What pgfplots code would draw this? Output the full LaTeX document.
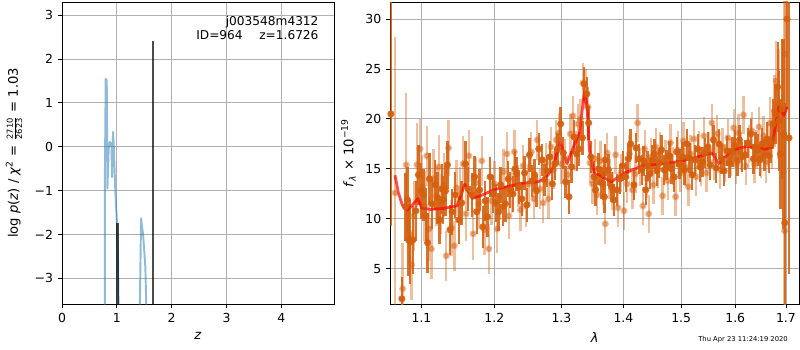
\documentclass[border=0pt]{standalone}
\usepackage{fontspec}
\setmainfont{DejaVu Sans}
\usepackage{pgfplots}
\pgfplotsset{compat=1.18}
\usepackage{pgfplotstable}
\definecolor{pzblue}{RGB}{31,119,180}
\definecolor{specor}{RGB}{212,96,14}
\definecolor{gridgray}{RGB}{176,176,176}

\pgfplotstableread{
x y e
1.0660 12.6 15.6
1.0755 3.0 4.6
1.0800 15.4 7.2
1.0840 8.4 3.0
1.0870 5.4 3.5
1.0900 10.3 3.5
1.0940 15.4 4.2
1.0980 17.0 3.0
1.1010 13.2 3.2
1.1040 11.3 3.5
1.1070 16.3 3.0
1.1100 9.0 3.2
1.1130 7.0 3.0
1.1160 14.0 3.0
1.1200 12.3 3.0
1.1230 15.2 3.2
1.1260 11.5 3.0
1.1300 13.4 3.2
1.1330 6.3 2.5
1.1360 17.1 2.8
1.1400 9.1 2.8
1.1440 7.3 2.5
1.1470 13.1 2.8
1.1520 12.6 2.6
1.1560 15.5 2.8
1.1600 10.5 2.7
1.1640 16.3 2.6
1.1700 8.5 2.6
1.1740 13.6 2.6
1.1780 11.5 2.5
1.1820 15.8 2.5
1.1860 8.9 2.5
1.1920 7.0 2.5
1.1960 11.8 2.4
1.2000 13.5 2.3
1.2040 9.0 2.4
1.2080 12.2 2.3
1.2130 14.7 2.3
1.2180 16.5 2.2
1.2210 10.3 2.3
1.2250 12.8 2.2
1.2290 16.7 2.2
1.2340 13.3 2.1
1.2380 10.9 2.1
1.2420 15.3 2.1
1.2460 11.3 2.1
1.2500 13.5 2.0
1.2540 16.7 2.0
1.2580 12.0 2.0
1.2630 17.9 2.0
1.2670 13.0 2.0
1.2720 11.6 2.0
1.2760 15.6 2.0
1.2800 12.0 2.0
1.2840 17.2 2.0
1.2880 14.9 1.9
1.2920 17.9 2.0
1.2960 18.6 2.0
1.3000 15.5 2.0
1.3050 16.0 2.0
1.3100 14.4 2.0
1.3140 18.5 2.0
1.3180 20.3 2.0
1.3220 16.8 2.0
1.3260 19.5 2.0
1.3300 20.0 2.0
1.3340 23.6 2.0
1.3380 23.0 2.0
1.3420 21.2 2.0
1.3450 15.6 2.0
1.3490 13.5 2.0
1.3530 16.0 2.0
1.3570 12.4 2.0
1.3620 15.8 2.0
1.3660 13.4 2.0
1.3700 9.5 2.0
1.3730 16.6 2.0
1.3770 14.0 2.0
1.3820 12.8 1.9
1.3870 16.4 1.9
1.3910 11.1 1.9
1.3960 14.6 1.9
1.4010 10.8 1.9
1.4060 13.5 1.9
1.4100 16.5 1.9
1.4150 12.9 1.9
1.4200 14.5 1.9
1.4240 19.6 1.9
1.4280 15.2 1.9
1.4330 11.3 1.9
1.4360 17.0 1.9
1.4400 14.0 1.9
1.4430 10.5 1.9
1.4470 16.2 1.9
1.4510 13.4 1.9
1.4550 17.2 1.9
1.4590 15.0 1.9
1.4630 16.8 1.9
1.4670 12.3 1.9
1.4720 16.0 1.9
1.4760 13.8 1.9
1.4810 17.6 1.9
1.4850 15.3 1.9
1.4900 12.2 1.9
1.4940 16.9 1.9
1.4990 14.6 1.9
1.5040 17.8 1.9
1.5080 15.2 1.9
1.5130 13.2 1.9
1.5170 16.5 1.9
1.5230 18.0 1.9
1.5270 14.2 1.9
1.5320 16.9 1.9
1.5360 15.2 1.9
1.5410 18.3 1.9
1.5460 14.6 1.9
1.5510 16.8 1.9
1.5560 19.6 1.9
1.5610 15.8 1.9
1.5660 18.5 1.9
1.5710 14.9 1.9
1.5760 17.2 1.9
1.5810 15.6 1.9
1.5860 18.1 1.9
1.5910 16.2 1.9
1.5970 19.1 1.9
1.6020 15.4 1.9
1.6060 18.6 1.9
1.6110 16.8 1.9
1.6160 20.4 1.9
1.6210 15.3 1.9
1.6260 17.5 1.9
1.6320 18.8 1.9
1.6370 15.5 1.9
1.6410 17.0 1.9
1.6460 19.2 2.0
1.6500 16.1 2.0
1.6550 18.3 2.0
1.6600 15.7 2.1
1.6640 17.4 2.2
1.6680 19.6 2.6
1.6720 18.0 3.0
1.6770 20.8 3.6
1.6800 23.8 4.0
1.6850 21.5 5.5
1.6970 8.8 25.0
1.6987 26.5 12.0
}\lightdata

\pgfplotstableread{
x y e
1.0605 20.5 11.2
1.0745 2.0 2.2
1.0790 11.2 3.4
1.0817 11.9 3.3
1.0829 7.9 3.6
1.0853 7.7 4.2
1.0889 7.9 3.4
1.0925 10.8 3.0
1.0959 14.4 3.0
1.0995 12.8 2.8
1.1026 12.4 2.6
1.1055 10.3 2.8
1.1080 7.6 3.0
1.1106 14.0 2.6
1.1140 11.5 2.5
1.1180 13.4 2.5
1.1210 12.1 2.6
1.1240 9.9 2.4
1.1270 13.0 2.5
1.1290 11.9 2.4
1.1320 12.8 2.5
1.1345 15.4 2.4
1.1380 8.9 2.5
1.1410 10.7 2.3
1.1450 12.4 2.3
1.1500 9.9 2.4
1.1540 11.6 2.2
1.1594 15.5 2.3
1.1630 13.0 2.2
1.1680 12.4 2.2
1.1720 14.2 2.1
1.1750 10.7 2.2
1.1790 12.9 2.1
1.1837 9.2 2.1
1.1870 11.8 2.0
1.1900 10.2 2.0
1.1940 14.2 2.0
1.1980 12.5 1.9
1.2020 11.6 1.9
1.2061 10.7 1.9
1.2090 13.4 1.8
1.2120 11.2 1.9
1.2158 11.5 1.8
1.2200 14.0 1.8
1.2230 12.9 1.8
1.2269 12.5 1.8
1.2300 15.0 1.8
1.2320 14.5 1.7
1.2360 13.2 1.7
1.2400 12.0 1.7
1.2440 14.6 1.7
1.2477 11.4 1.7
1.2513 16.4 1.7
1.2550 13.8 1.6
1.2590 14.4 1.6
1.2620 12.8 1.6
1.2654 17.0 1.6
1.2705 15.9 1.6
1.2740 13.9 1.6
1.2780 14.8 1.6
1.2822 16.2 1.6
1.2860 13.5 1.6
1.2900 15.5 1.6
1.2940 17.0 1.6
1.2988 19.5 1.7
1.3030 16.6 1.6
1.3066 13.7 1.6
1.3118 12.2 1.7
1.3160 15.2 1.6
1.3197 18.2 1.7
1.3240 16.5 1.7
1.3276 17.0 1.7
1.3330 18.1 1.7
1.3358 23.5 1.7
1.3400 22.5 1.7
1.3430 19.6 1.7
1.3465 16.2 1.6
1.3518 14.2 1.6
1.3541 12.9 1.6
1.3590 15.0 1.6
1.3640 13.6 1.6
1.3677 14.5 1.6
1.3685 12.2 1.6
1.3698 15.9 1.6
1.3750 14.9 1.6
1.3800 13.2 1.5
1.3842 11.9 1.6
1.3890 12.9 1.6
1.3940 14.0 1.5
1.3990 15.3 1.5
1.4040 14.2 1.5
1.4080 16.0 1.5
1.4120 17.5 1.5
1.4176 13.4 1.5
1.4214 17.1 1.5
1.4260 16.0 1.5
1.4310 14.9 1.5
1.4340 15.8 1.5
1.4377 12.9 1.5
1.4410 15.3 1.5
1.4450 14.5 1.5
1.4490 15.9 1.5
1.4528 16.5 1.5
1.4570 14.8 1.5
1.4610 15.6 1.5
1.4650 16.9 1.5
1.4698 14.9 1.5
1.4740 15.4 1.5
1.4790 16.3 1.5
1.4830 15.0 1.5
1.4876 14.2 1.5
1.4920 16.7 1.5
1.4970 15.5 1.5
1.5025 16.2 1.5
1.5060 14.9 1.5
1.5101 17.5 1.5
1.5150 16.1 1.5
1.5200 14.4 1.5
1.5250 15.9 1.5
1.5300 17.0 1.5
1.5340 15.2 1.5
1.5384 15.7 1.5
1.5430 16.6 1.5
1.5486 17.2 1.5
1.5530 15.4 1.5
1.5589 17.9 1.5
1.5640 15.1 1.5
1.5694 17.5 1.5
1.5740 16.0 1.5
1.5790 14.8 1.5
1.5840 16.8 1.5
1.5890 15.6 1.5
1.5947 16.7 1.5
1.6000 17.4 1.5
1.6040 15.8 1.5
1.6081 17.9 1.5
1.6130 16.2 1.5
1.6190 16.4 1.5
1.6240 17.6 1.5
1.6299 18.5 1.5
1.6350 16.0 1.5
1.6390 17.2 1.5
1.6438 16.9 1.6
1.6480 15.9 1.6
1.6523 17.5 1.6
1.6570 16.4 1.6
1.6620 18.0 1.7
1.6660 16.3 1.7
1.6700 17.5 1.9
1.6740 19.5 2.5
1.6790 20.5 3.0
1.6832 23.2 4.5
1.6860 19.8 5.0
1.6890 16.5 5.5
1.6920 21.0 7.0
1.6950 18.5 9.5
1.6975 9.6 12.0
1.7020 30.0 9.0
1.7060 18.1 13.6
}\darkdata

\pgfplotstableread{
x y
1.0657 14.36
1.0700 12.6
1.0750 11.4
1.0817 10.87
1.0870 11.3
1.0952 12.03
1.1000 11.1
1.1115 10.94
1.1300 11.05
1.1478 11.3
1.1583 13.46
1.1687 12.04
1.1800 12.3
1.2000 12.93
1.2384 13.53
1.2634 13.7
1.2750 14.0
1.2863 15.03
1.2982 17.7
1.3087 15.53
1.3229 17.85
1.3282 18.52
1.3362 22.67
1.3405 21.18
1.3442 16.86
1.3523 14.53
1.3600 14.4
1.3796 13.7
1.4018 14.6
1.4359 15.36
1.4700 15.5
1.5006 15.79
1.5300 16.2
1.5557 16.59
1.5685 15.53
1.5940 16.86
1.6228 17.26
1.6587 16.96
1.6715 17.2
1.6855 21.25
1.6956 20.35
1.7023 21.18
}\modeldata

\pgfplotsset{mystyle/.style={
  scale only axis,
  axis line style={black, line width=0.6pt},
  grid=major,
  grid style={color=gridgray, line width=0.6pt},
  tick align=outside,
  tick pos=left,
  major tick length=3pt,
  tick style={black, line width=0.6pt},
  tick label style={font=\fontsize{9}{10}\selectfont},
  label style={font=\fontsize{9.5}{11}\selectfont},
  /pgf/number format/assume math mode=true,
}}

\begin{document}
\begin{tikzpicture}
\useasboundingbox (0,0) rectangle (578.16pt,252.95pt);

\begin{axis}[mystyle,
  at={(44.8pt,33.2pt)}, anchor=south west,
  width=196.6pt, height=218.3pt,
  xmin=0, xmax=4.96, ymin=-3.585, ymax=3.3,
  xtick={0,1,2,3,4},
  ytick={-3,-2,-1,0,1,2,3},
  yticklabels={−3,−2,−1,0,1,2,3},
  xlabel={\textit{z}},
  ylabel={log \textit{p}(\textit{z}) / \textit{χ}\textsuperscript{2} = $\frac{\hbox{\fontsize{6}{6}\selectfont 2710}}{\hbox{\fontsize{6}{6}\selectfont 2623}}$ = 1.03},
  ylabel style={xshift=0pt, yshift=2pt},
]
\addplot[pzblue, opacity=0.5, line width=1.4pt, line join=round] coordinates {
(0.781,-3.8) (0.781,-0.915) (0.797,1.55) (0.816,1.51) (0.828,-0.95) (0.852,-0.04)
(0.870,0.11) (0.901,0.07) (0.913,-0.69) (0.931,0.34) (0.943,0.07) (0.974,-1.07)
(1.004,-1.75) (1.022,-2.58) (1.035,-3.8)};
\addplot[pzblue, opacity=0.5, line width=1.4pt, line join=round] coordinates {
(1.418,-3.8) (1.442,-1.63) (1.460,-1.83) (1.478,-1.98) (1.520,-2.74) (1.540,-3.8)};
\addplot[black, opacity=0.7, line width=2pt] coordinates {(1.012,-3.8) (1.012,-1.73)};
\addplot[black, opacity=0.7, line width=2pt] coordinates {(1.66,-3.8) (1.66,2.41)};
\node[anchor=north east, align=right, inner sep=0pt, font=\fontsize{8.8}{10.3}\selectfont]
  at (rel axis cs:0.944,0.955) {j003548m4312\\ID=964\hspace{12pt}z=1.6726};
\end{axis}

\begin{axis}[mystyle,
  at={(282.1pt,33.2pt)}, anchor=south west,
  width=295.6pt, height=218.3pt,
  xmode=log,
  xmin=1.0598, xmax=1.7274, ymin=1.47, ymax=31.7,
  xtick={1.1,1.2,1.3,1.4,1.5,1.6,1.7},
  xticklabels={1.1,1.2,1.3,1.4,1.5,1.6,1.7},
  minor xtick={},
  ytick={5,10,15,20,25,30},
  xlabel={\textit{λ}},
  ylabel={\textit{f}\textsubscript{\textit{λ}} × 10\textsuperscript{−19}},
]
\addplot[only marks, mark=*, mark size=1.7pt, color=specor, opacity=0.4, line width=1.7pt,
  mark options={draw=none, fill=specor},
  error bars/.cd, y dir=both, y explicit, error mark=none,
  error bar style={line width=1.7pt, color=specor}]
  table[x=x, y=y, y error=e] {\lightdata};
\addplot[only marks, mark=*, mark size=1.7pt, color=specor, opacity=0.88, line width=1.7pt,
  mark options={draw=none, fill=specor},
  error bars/.cd, y dir=both, y explicit, error mark=none,
  error bar style={line width=1.7pt, color=specor}]
  table[x=x, y=y, y error=e] {\darkdata};
\addplot[red, opacity=0.7, line width=2pt, line join=round] table[x=x, y=y] {\modeldata};
\end{axis}

\node[anchor=east, inner sep=0pt, font=\fontsize{4.9}{5.5}\selectfont] at (569.5pt,7.4pt) {Thu Apr 23 11:24:19 2020};
\end{tikzpicture}
\end{document}
